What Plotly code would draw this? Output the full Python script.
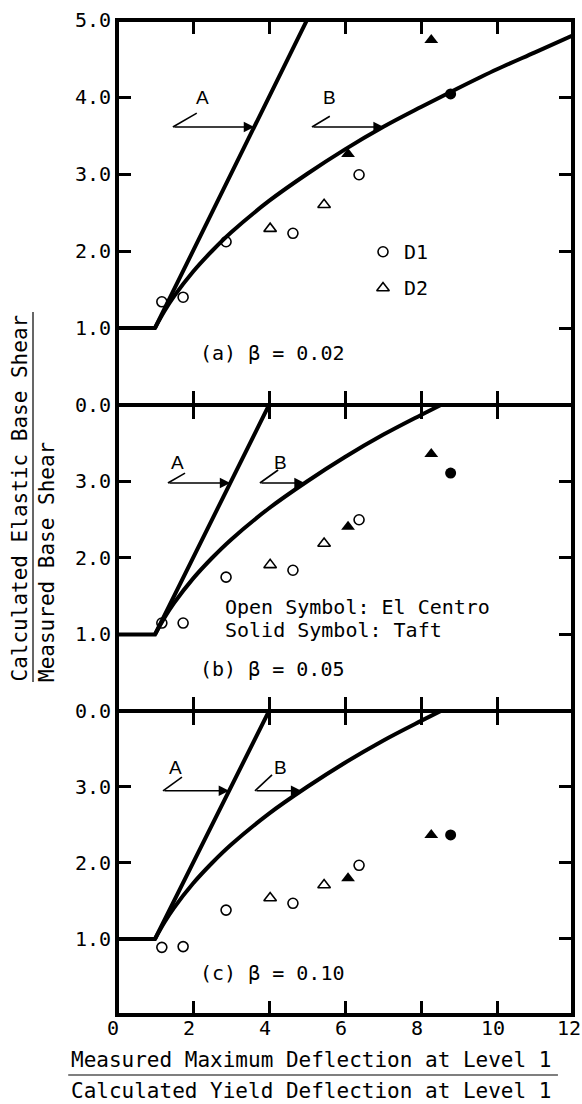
import plotly.graph_objects as go

# ---- reference curves -------------------------------------------------------
# A: flat at 1.0 up to yield, then Ve/V = ductility (equal displacement)
curve_a_x = [0.0, 1.0, 6.0]
curve_a_y = [1.0, 1.0, 6.0]
# B: equal energy curve, starting at yield
curve_b_x = [1.0, 1.25, 1.5, 2.0, 2.5, 3.0, 4.0, 5.0, 6.0, 7.0, 8.0, 9.0, 10.0, 11.0, 12.0]
curve_b_y = [1.0, 1.22, 1.41, 1.73, 2.0, 2.24, 2.65, 3.0, 3.32, 3.61, 3.87, 4.12, 4.36, 4.58, 4.80]

# ---- measured points (ductility ratio) -------------------------------------
d1_centro_x = [1.18, 1.74, 2.87, 4.63, 6.37]
d2_centro_x = [4.03, 5.45]
d1_taft_x = [8.78]
d2_taft_x = [6.08, 8.27]

# base shear ratio for each damping value
d1_centro_y = {"a": [1.34, 1.40, 2.12, 2.23, 2.99],
               "b": [1.15, 1.15, 1.75, 1.84, 2.50],
               "c": [0.89, 0.90, 1.38, 1.47, 1.97]}
d2_centro_y = {"a": [2.29, 2.60], "b": [1.91, 2.19], "c": [1.54, 1.71]}
d1_taft_y = {"a": [4.04], "b": [3.11], "c": [2.37]}
d2_taft_y = {"a": [3.26, 4.74], "b": [2.41, 3.36], "c": [1.80, 2.37]}

panel_titles = {"a": "(a) β = 0.02", "b": "(b) β = 0.05", "c": "(c) β = 0.10"}

x_ticks = [0, 2, 4, 6, 8, 10, 12]
x_tick_text = ["0", "2", "4", "6", "8", "10", "12"]

MONO = "DejaVu Sans Mono"
SANS = "Liberation Sans"
INK = "black"

# panel key -> (axis suffix, y domain, y range, y tick values)
panels = {
    "a": ("3", [0.61307, 1.0], [0, 5], [0, 1, 2, 3, 4, 5]),
    "b": ("2", [0.30553, 0.61307], [0, 4], [0, 1, 2, 3]),
    "c": ("", [0.0, 0.30553], [0, 4], [1, 2, 3]),
}

fig = go.Figure()

for key, (sfx, dom, yr, yt) in panels.items():
    xa, ya = "x" + sfx, "y" + sfx
    line = dict(color=INK, width=4)
    fig.add_trace(go.Scatter(x=curve_a_x, y=curve_a_y, mode="lines", line=line,
                             xaxis=xa, yaxis=ya, showlegend=False, hoverinfo="skip"))
    fig.add_trace(go.Scatter(x=curve_b_x, y=curve_b_y, mode="lines",
                             line=dict(color=INK, width=4, shape="spline", smoothing=1.0),
                             xaxis=xa, yaxis=ya, showlegend=False, hoverinfo="skip"))
    open_line = dict(color=INK, width=1.6)
    fig.add_trace(go.Scatter(x=d1_centro_x, y=d1_centro_y[key], mode="markers",
                             marker=dict(symbol="circle-open", size=10, line=open_line, color=INK),
                             xaxis=xa, yaxis=ya, showlegend=False))
    fig.add_trace(go.Scatter(x=d2_centro_x, y=d2_centro_y[key], mode="markers",
                             marker=dict(symbol="triangle-up-open", size=11, line=open_line, color=INK),
                             xaxis=xa, yaxis=ya, showlegend=False))
    fig.add_trace(go.Scatter(x=d1_taft_x, y=d1_taft_y[key], mode="markers",
                             marker=dict(symbol="circle", size=11, color=INK),
                             xaxis=xa, yaxis=ya, showlegend=False))
    fig.add_trace(go.Scatter(x=d2_taft_x, y=d2_taft_y[key], mode="markers",
                             marker=dict(symbol="triangle-up", size=12, color=INK),
                             xaxis=xa, yaxis=ya, showlegend=False))

    fig.update_layout({
        "xaxis" + sfx: dict(
            range=[0, 12], domain=[0, 1], anchor=ya,
            showline=True, linewidth=2, linecolor=INK, mirror="ticks",
            ticks="inside", ticklen=14, tickwidth=2.5, tickcolor=INK,
            tickvals=x_ticks, ticktext=x_tick_text,
            showticklabels=(key == "c"), showgrid=False, zeroline=False,
            tickfont=dict(family=MONO, size=20, color=INK),
            ticklabelstandoff=-6, ticklabelshift=-4, ticklabeloverflow="allow",
            fixedrange=True,
        ),
        "yaxis" + sfx: dict(
            range=yr, domain=dom, anchor=xa,
            showline=True, linewidth=2, linecolor=INK, mirror="ticks",
            ticks="inside", ticklen=14, tickwidth=2.5, tickcolor=INK,
            tickvals=yt, ticktext=["%.1f" % v for v in yt],
            showgrid=False, zeroline=False,
            tickfont=dict(family=MONO, size=20, color=INK),
            ticklabeloverflow="allow",
            fixedrange=True,
        ),
    })

    # panel caption
    cap_y = {"a": 0.68, "b": 0.55, "c": 0.55}[key]
    fig.add_annotation(x=2.12, y=cap_y, xref=xa, yref=ya, text=panel_titles[key],
                       showarrow=False, xanchor="left", yanchor="middle",
                       font=dict(family=MONO, size=20, color=INK))

# heavy outer frame around the stacked panels
fig.add_shape(type="rect", xref="paper", yref="paper", x0=0, x1=1, y0=0, y1=1,
              line=dict(color=INK, width=4), layer="above")

# ---- "A" / "B" pointer labels ---------------------------------------------
# per panel: arrow height, A tail x, A head x, A knee end, A label, B tail x, B head x, B knee end, B label
pointers = {
    "a": (3.61, 1.47, 3.61, (2.10, 3.79), (2.24, 3.99), 5.13, 7.02, (5.60, 3.75), (5.60, 3.99)),
    "b": (2.98, 1.34, 2.98, (1.79, 3.11), (1.58, 3.25), 3.76, 4.94, (4.24, 3.15), (4.29, 3.25)),
    "c": (2.95, 1.21, 2.95, (1.71, 3.13), (1.53, 3.25), 3.63, 4.85, (4.08, 3.16), (4.29, 3.26)),
}
for key, (yy, a_t, a_h, a_k, a_l, b_t, b_h, b_k, b_l) in pointers.items():
    sfx = panels[key][0]
    xa, ya = "x" + sfx, "y" + sfx
    for tail, head, knee, lab, txt in ((a_t, a_h, a_k, a_l, "A"), (b_t, b_h, b_k, b_l, "B")):
        fig.add_annotation(x=head, y=yy, ax=tail, ay=yy, xref=xa, yref=ya, axref=xa, ayref=ya,
                           text="", showarrow=True, arrowhead=2, arrowsize=1.3,
                           arrowwidth=1.6, arrowcolor=INK, standoff=0, startstandoff=0)
        fig.add_shape(type="line", xref=xa, yref=ya, x0=tail, y0=yy, x1=knee[0], y1=knee[1],
                      line=dict(color=INK, width=1.6))
        fig.add_annotation(x=lab[0], y=lab[1], xref=xa, yref=ya, text=txt, showarrow=False,
                           font=dict(family=SANS, size=19, color=INK))

# ---- symbol key (panel a) ---------------------------------------------------
key_x = [7.0]
fig.add_trace(go.Scatter(x=key_x, y=[1.99], mode="markers", xaxis="x3", yaxis="y3",
                         marker=dict(symbol="circle-open", size=10, color=INK,
                                     line=dict(color=INK, width=1.6)),
                         showlegend=False, hoverinfo="skip"))
fig.add_trace(go.Scatter(x=key_x, y=[1.52], mode="markers", xaxis="x3", yaxis="y3",
                         marker=dict(symbol="triangle-up-open", size=11, color=INK,
                                     line=dict(color=INK, width=1.6)),
                         showlegend=False, hoverinfo="skip"))
for yy, txt in ((1.99, "D1"), (1.52, "D2")):
    fig.add_annotation(x=7.5, y=yy, xref="x3", yref="y3", text=txt, showarrow=False,
                       xanchor="left", font=dict(family=MONO, size=20, color=INK))

# ground-motion note (panel b)
for yy, txt in ((1.36, "Open Symbol: El Centro"), (1.06, "Solid Symbol: Taft")):
    fig.add_annotation(x=2.79, y=yy, xref="x2", yref="y2", text=txt, showarrow=False,
                       xanchor="left", font=dict(family=MONO, size=20, color=INK))

# ---- axis titles written as ratios -----------------------------------------
title_font = dict(family=MONO, size=21, color=INK)
fig.add_annotation(x=0.4254, y=-0.0452, xref="paper", yref="paper", showarrow=False,
                   xanchor="center", yanchor="middle",
                   text="Measured Maximum Deflection at Level 1", font=title_font)
fig.add_annotation(x=0.4254, y=-0.0764, xref="paper", yref="paper", showarrow=False,
                   xanchor="center", yanchor="middle",
                   text="Calculated Yield Deflection at Level 1", font=title_font)
fig.add_shape(type="line", xref="paper", yref="paper", x0=-0.107, x1=0.967,
              y0=-0.0603, y1=-0.0603, line=dict(color=INK, width=1.2))

fig.add_annotation(x=-0.2127, y=0.3327, xref="paper", yref="paper", showarrow=False,
                   textangle=-90, xanchor="center", yanchor="bottom",
                   text="Calculated Elastic Base Shear", font=title_font)
fig.add_annotation(x=-0.1535, y=0.3327, xref="paper", yref="paper", showarrow=False,
                   textangle=-90, xanchor="center", yanchor="bottom",
                   text="Measured Base Shear", font=title_font)
fig.add_shape(type="line", xref="paper", yref="paper", x0=-0.1842, x1=-0.1842,
              y0=0.3347, y1=0.7065, line=dict(color=INK, width=1.2))

fig.update_layout(
    width=582, height=1104,
    margin=dict(l=117, r=9, t=20, b=89, autoexpand=False),
    paper_bgcolor="white", plot_bgcolor="white",
    showlegend=False,
)

fig.write_html("out.html", config={"displayModeBar": False})
